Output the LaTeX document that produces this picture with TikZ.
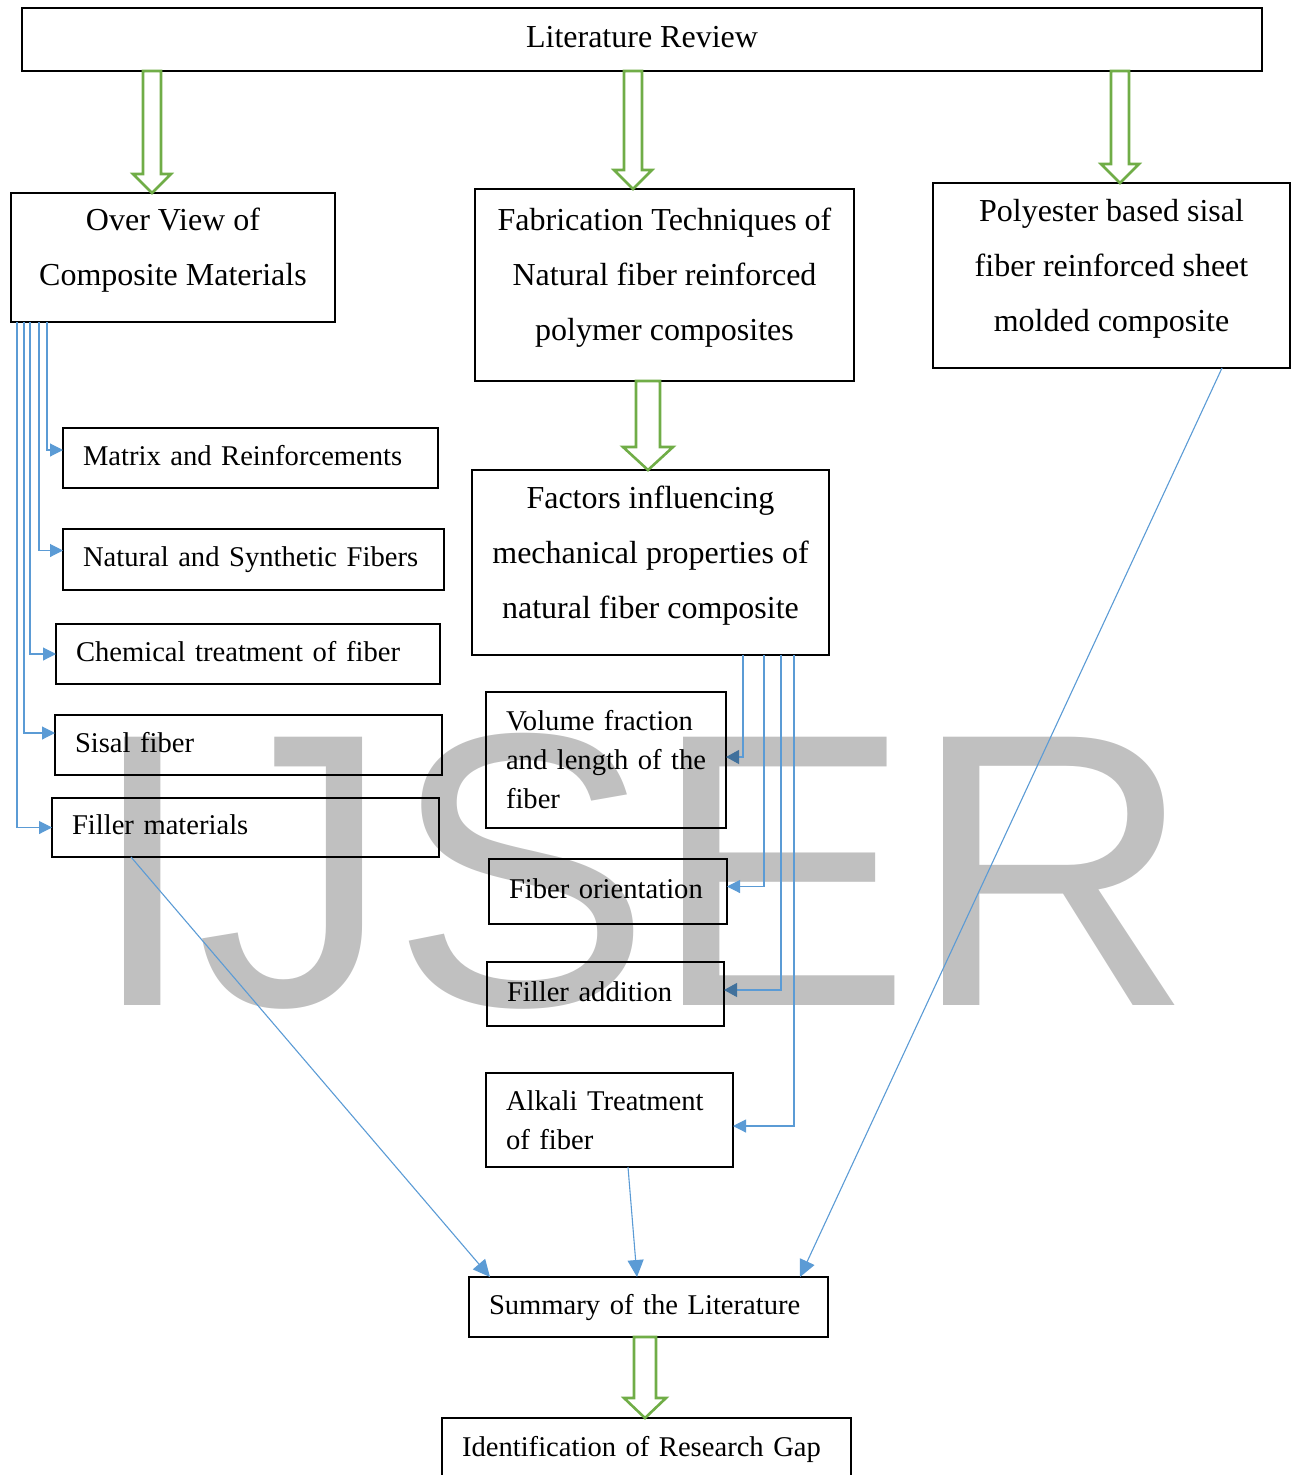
\documentclass[tikz,border=0pt]{standalone}
\usepackage{fontspec}
\setmainfont{Liberation Serif}
\newfontfamily\wmfont{Liberation Sans}
\usepackage{tikz}
\usetikzlibrary{calc,arrows.meta}

\definecolor{linkblue}{HTML}{5B9BD5}
\definecolor{headblue}{HTML}{41719C}
\definecolor{fatgreen}{HTML}{70AD47}
\definecolor{wmgray}{HTML}{C0C0C0}

\newcommand{\fatarrow}[6]{%
  \coordinate (fa) at (#1,0);
  \draw[fat] ($(fa |- #2.south)+(-#4,0)$) -- ($(fa |- #3.north)+(-#4,-#6)$)
    -- ($(fa |- #3.north)+(-#5,-#6)$) -- (fa |- #3.north)
    -- ($(fa |- #3.north)+(#5,-#6)$) -- ($(fa |- #3.north)+(#4,-#6)$)
    -- ($(fa |- #2.south)+(#4,0)$) -- cycle;}

\begin{document}
\begin{tikzpicture}[x=1pt,y=-1pt,
  box/.style={draw,line width=1.3pt,outer sep=0pt,inner sep=0pt,anchor=north west,align=center,font=\fontsize{32}{55}\selectfont},
  tall/.style={box,execute at end node={\rule[-21pt]{0pt}{0pt}}},
  sbox/.style={draw,line width=1.3pt,outer sep=0pt,inner ysep=0pt,inner xsep=20pt,anchor=north west,align=left,font=\fontsize{28.6}{39}\selectfont},
  one/.style={sbox,text height=20pt,text depth=6pt},
  link/.style={draw=linkblue,line width=1.1pt,-{Triangle[length=13pt,width=13pt,color=linkblue]}},
  dlink/.style={link,-{Triangle[length=13pt,width=14pt,color=headblue]}},
  slink/.style={link,-{Triangle[length=17pt,width=16pt,color=linkblue]}},
  fat/.style={draw=fatgreen,line width=2.6pt,line join=miter}]
\useasboundingbox (0,0) rectangle (1291,1475);

\node (wm) [anchor=base west,inner sep=0pt,text=wmgray,font=\wmfont\fontsize{390}{390}\selectfont] at (88,1005) {IJSER};

\node (lit) [box,minimum width=1240pt,minimum height=63pt,text depth=5pt] at (22,8) {Literature Review};
\node (ov) [tall,minimum width=324pt,minimum height=129pt] at (11,193) {Over View of\\Composite Materials};
\node (fab) [tall,minimum width=379pt,minimum height=192pt] at (475,189) {Fabrication Techniques of\\Natural fiber reinforced\\polymer composites};
\node (poly) [tall,minimum width=357pt,minimum height=185pt] at (933,183) {Polyester based sisal\\fiber reinforced sheet\\molded composite};
\node (fac) [tall,minimum width=357pt,minimum height=185pt] at (472,470) {Factors influencing\\mechanical properties of\\natural fiber composite};

\node (mat) [one,text width=335pt,minimum height=60pt] at (63,428) {Matrix and Reinforcements};
\node (nat) [one,text width=341pt,minimum height=61pt] at (63,529) {Natural and Synthetic Fibers};
\node (che) [one,text width=344pt,minimum height=60pt] at (56,624) {Chemical treatment of fiber};
\node (sis) [one,text width=347pt,minimum height=60pt] at (55,715) {Sisal fiber};
\node (fil) [one,text width=347pt,minimum height=59pt] at (52,798) {Filler materials};

\node (vol) [sbox,text width=200pt,minimum height=136pt] at (486,692) {Volume fraction\\\mbox{and length of the}\\fiber};
\node (ori) [one,text width=198pt,minimum height=65pt] at (489,859) {\mbox{Fiber orientation}};
\node (add) [one,text width=197pt,minimum height=64pt] at (487,962) {Filler addition};
\node (alk) [sbox,text width=207pt,minimum height=94pt] at (486,1073) {\mbox{Alkali Treatment}\\of fiber};

\node (sum) [one,text width=319pt,minimum height=60pt] at (469,1277) {Summary of the Literature};
\node (gap) [one,text width=369pt,minimum height=62pt] at (442,1418) {Identification of Research Gap};

\fatarrow{152}{lit}{ov}{9}{19}{19}
\fatarrow{633}{lit}{fab}{9}{19}{19}
\fatarrow{1120}{lit}{poly}{9}{19}{19}
\fatarrow{648}{fab}{fac}{12}{25}{23}
\fatarrow{645}{sum}{gap}{11}{21}{20}

\draw[link] ($(ov.south west)+(36,0)$) |- ($(mat.west)+(0,-8)$);
\draw[link] ($(ov.south west)+(28,0)$) |- ($(nat.west)+(0,-9)$);
\draw[link] ($(ov.south west)+(19,0)$) |- (che.west);
\draw[link] ($(ov.south west)+(13,0)$) |- ($(sis.west)+(0,-12)$);
\draw[link] ($(ov.south west)+(6,0)$) |- (fil.west);

\draw[dlink] ($(fac.south east)+(-86,0)$) |- ($(vol.east)+(0,-3)$);
\draw[link] ($(fac.south east)+(-65,0)$) |- ($(ori.east)+(0,-5)$);
\draw[dlink] ($(fac.south east)+(-48,0)$) |- ($(add.east)+(0,-4)$);
\draw[link] ($(fac.south east)+(-35,0)$) |- ($(alk.east)+(0,6)$);

\draw[slink] ($(fil.south west)+(79,0)$) -- ($(sum.north west)+(21,0)$);
\draw[slink] ($(alk.south west)+(142,0)$) -- ($(sum.north west)+(168,0)$);
\draw[slink] ($(poly.south west)+(289,0)$) -- ($(sum.north west)+(331,0)$);
\end{tikzpicture}
\end{document}
